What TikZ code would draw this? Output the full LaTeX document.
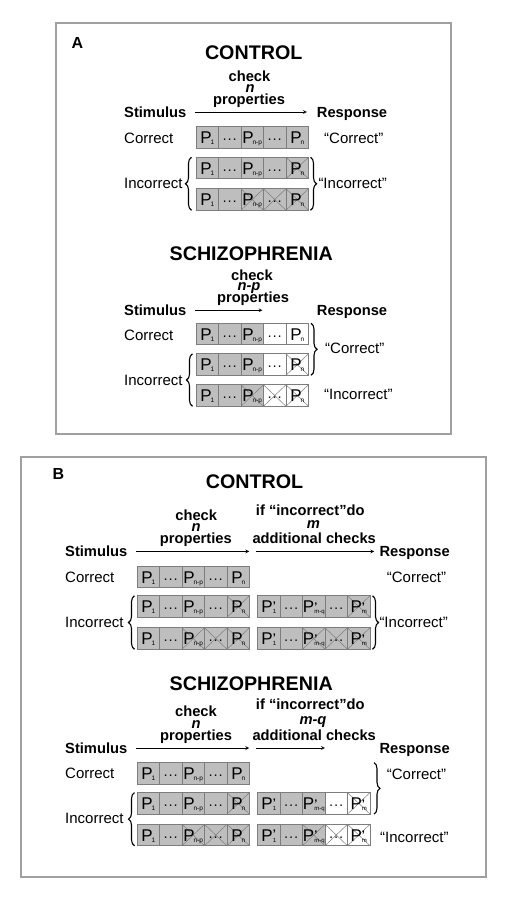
\documentclass[tikz,border=0pt]{standalone}
\usepackage{fontspec}
\setmainfont{Liberation Sans}
\usepackage{tikz}
\usetikzlibrary{arrows,positioning,decorations.pathreplacing}
\definecolor{boxgray}{RGB}{190,190,190}
\definecolor{linegray}{RGB}{125,125,125}
\definecolor{framegray}{RGB}{160,160,160}
\tikzstyle{cell} = [rectangle, minimum width=22.5pt, minimum height=21.5pt, inner sep=0pt, outer sep=0pt, draw=linegray, fill=boxgray, line width=0.6pt, text height=12pt, text depth=0pt, font=\fontsize{17}{17}\selectfont]
\tikzstyle{emptycell} = [cell, fill=white]
\tikzstyle{crossed} = [path picture={\draw[linegray, line width=0.5pt] (path picture bounding box.south west) -- (path picture bounding box.north east) (path picture bounding box.north west) -- (path picture bounding box.south east);}]
\tikzstyle{titletext} = [inner sep=0pt, anchor=base, font=\fontsize{19.7}{20}\selectfont\bfseries]
\tikzstyle{headtext} = [inner sep=0pt, anchor=base, font=\fontsize{14.7}{15}\selectfont\bfseries]
\tikzstyle{vartext} = [headtext, font=\fontsize{14.7}{15}\selectfont\bfseries\itshape]
\tikzstyle{sidetext} = [inner sep=0pt, anchor=base west, font=\fontsize{14.7}{15}\selectfont\bfseries]
\tikzstyle{lbltext} = [inner sep=0pt, anchor=base west, font=\fontsize{15}{15}\selectfont]
\tikzstyle{arrow} = [->, >=stealth, line width=0.7pt]
\tikzstyle{curly} = [decorate, decoration={brace, amplitude=6pt}, line width=1.1pt]
\tikzstyle{panel} = [draw=framegray, line width=1.2pt]
% cell contents
\newcommand{\Psub}[1]{P\kern-1.2pt\raisebox{-1pt}{\fontsize{6.5}{6.5}\selectfont #1}}
\newcommand{\Pprime}[1]{P\raisebox{-1pt}{\vbox{\offinterlineskip\hbox{\fontsize{11}{11}\selectfont\bfseries ’}\hbox{\fontsize{6}{6}\selectfont #1}}}}
\newcommand{\pdots}{{\fontsize{14}{14}\selectfont ·\kern0.3pt·\kern0.3pt·}}
% a row of n properties and a row of m extra checks
\newcommand{\nrow}[7]{%
\node[#3] (#1-1) at (#2) {\Psub{1}};
\node[#4, right=of #1-1] (#1-2) {\pdots};
\node[#5, right=of #1-2] (#1-3) {\Psub{n-p}};
\node[#6, right=of #1-3] (#1-4) {\pdots};
\node[#7, right=of #1-4] (#1-5) {\Psub{n}};}
\newcommand{\mrow}[7]{%
\node[#3] (#1-1) at (#2) {\Pprime{1}};
\node[#4, right=of #1-1] (#1-2) {\pdots};
\node[#5, right=of #1-2] (#1-3) {\Pprime{m-q}};
\node[#6, right=of #1-3] (#1-4) {\pdots};
\node[#7, right=of #1-4] (#1-5) {\Pprime{m}};}

\begin{document}
\begin{tikzpicture}[x=1pt, y=-1pt, node distance=0pt]
\useasboundingbox (0,0) rectangle (508,900);
% panel A
\draw[panel] (56,23) rectangle (451,434);
\node[titletext, font=\fontsize{16}{16}\selectfont\bfseries] (labA) at (77.5,48.3) {A};
\node[titletext] (ctrlA) at (253.7,59.3) {CONTROL};
\node[headtext] (chkA) at (249.5,81.5) {check};
\node[vartext] (nA) at (250,92.3) {n};
\node[headtext] (propA) at (249,104) {properties};
\node[sidetext] (stimA) at (124,117.3) {Stimulus};
\node[sidetext] (respA) at (316.7,117) {Response};
\draw[arrow] ([xshift=8.5pt]stimA.east) -- ++(111.9,0);
\node[lbltext] (corA) at (124,143) {Correct};
\node[lbltext] (qcorA) at (324,143) {“Correct”};
\node[lbltext] (incA) at (124,188.7) {Incorrect};
\node[lbltext] (qincA) at (318.3,188.7) {“Incorrect”};
\nrow{ac}{207.25,137.5}{cell}{cell}{cell}{cell}{cell}
\nrow{ai1}{207.25,168}{cell}{cell}{cell}{cell}{cell,crossed}
\nrow{ai2}{207.25,199.5}{cell}{cell}{cell,crossed}{cell,crossed}{cell,crossed}
\draw[curly] ([xshift=-4.5pt]ai2-1.south west) -- ([xshift=-4.5pt]ai1-1.north west);
\draw[curly] ([xshift=2pt]ai1-5.north east) -- ([xshift=2pt]ai2-5.south east);

\node[titletext] (schA) at (251.2,260.7) {SCHIZOPHRENIA};
\node[headtext] (chkAs) at (252,280) {check};
\node[vartext] (npAs) at (249,290.5) {n-p};
\node[headtext] (propAs) at (253,302) {properties};
\node[sidetext] (stimAs) at (124,315.5) {Stimulus};
\node[sidetext] (respAs) at (316.7,315.5) {Response};
\draw[arrow] ([xshift=8.5pt]stimAs.east) -- ++(67.5,0);
\node[lbltext] (corAs) at (124,340.5) {Correct};
\node[lbltext] (qcorAs) at (325,353.7) {“Correct”};
\node[lbltext] (incAs) at (124,385.4) {Incorrect};
\node[lbltext] (qincAs) at (324,399.4) {“Incorrect”};
\nrow{sc}{207.25,334}{cell}{cell}{cell}{emptycell}{emptycell}
\nrow{si1}{207.25,364.5}{cell}{cell}{cell}{emptycell}{emptycell,crossed}
\nrow{si2}{207.25,395.5}{cell}{cell}{cell,crossed}{emptycell,crossed}{emptycell,crossed}
\draw[curly] ([xshift=-3.5pt]si2-1.south west) -- ([xshift=-3.5pt]si1-1.north west);
\draw[curly] ([xshift=2.5pt]sc-5.north east) -- ([xshift=2.5pt]si1-5.south east);

% panel B
\draw[panel] (21,457) rectangle (486,877);
\node[titletext, font=\fontsize{16}{16}\selectfont\bfseries] (labB) at (58.3,479) {B};
\node[titletext] (ctrlB) at (254.5,488.3) {CONTROL};
\node[headtext] (chkB) at (196.2,520) {check};
\node[vartext] (nB) at (196,531.2) {n};
\node[headtext] (propB) at (195.8,543) {properties};
\node[headtext] (ifB) at (310.3,515) {if “incorrect”do};
\node[vartext] (mB) at (313.3,528.3) {m};
\node[headtext] (addB) at (314.2,543.5) {additional checks};
\node[sidetext] (stimB) at (65,556.7) {Stimulus};
\node[sidetext] (respB) at (379.3,556.5) {Response};
\draw[arrow] ([xshift=9pt]stimB.east) -- ++(112.7,0);
\draw[arrow] ([xshift=128.4pt]stimB.east) -- ++(118.3,0);
\node[lbltext] (corB) at (65,582) {Correct};
\node[lbltext] (qcorB) at (386.7,582) {“Correct”};
\node[lbltext] (incB) at (65,627) {Incorrect};
\node[lbltext] (qincB) at (379.3,627) {“Incorrect”};
\nrow{bc}{148.25,577}{cell}{cell}{cell}{cell}{cell}
\nrow{bi1}{148.25,606.5}{cell}{cell}{cell}{cell}{cell,crossed}
\mrow{bm1}{268.75,606.5}{cell}{cell}{cell}{cell}{cell,crossed}
\nrow{bi2}{148.25,638.5}{cell}{cell}{cell,crossed}{cell,crossed}{cell,crossed}
\mrow{bm2}{268.75,638.5}{cell}{cell}{cell,crossed}{cell,crossed}{cell,crossed}
\draw[curly] ([xshift=-2.5pt]bi2-1.south west) -- ([xshift=-2.5pt]bi1-1.north west);
\draw[curly] ([xshift=2.5pt]bm1-5.north east) -- ([xshift=2.5pt]bm2-5.south east);

\node[titletext] (schB) at (251.2,690.7) {SCHIZOPHRENIA};
\node[headtext] (chkBs) at (196,716.7) {check};
\node[vartext] (nBs) at (196,728.3) {n};
\node[headtext] (propBs) at (196,740) {properties};
\node[headtext] (ifBs) at (310.3,709.3) {if “incorrect”do};
\node[vartext] (mqBs) at (313,724.3) {m-q};
\node[headtext] (addBs) at (314.2,740.7) {additional checks};
\node[sidetext] (stimBs) at (65,753.3) {Stimulus};
\node[sidetext] (respBs) at (379.3,753) {Response};
\draw[arrow] ([xshift=9pt]stimBs.east) -- ++(112.7,0);
\draw[arrow] ([xshift=128.4pt]stimBs.east) -- ++(69,0);
\node[lbltext] (corBs) at (65,778.7) {Correct};
\node[lbltext] (qcorBs) at (386.7,779.4) {“Correct”};
\node[lbltext] (incBs) at (65,823.7) {Incorrect};
\node[lbltext] (qincBs) at (380,842) {“Incorrect”};
\nrow{tc}{148.25,773.3}{cell}{cell}{cell}{cell}{cell}
\nrow{ti1}{148.25,803.3}{cell}{cell}{cell}{cell}{cell,crossed}
\mrow{tm1}{268.75,803.3}{cell}{cell}{cell}{emptycell}{emptycell,crossed}
\nrow{ti2}{148.25,835}{cell}{cell}{cell,crossed}{cell,crossed}{cell,crossed}
\mrow{tm2}{268.75,835}{cell}{cell}{cell,crossed}{emptycell,crossed}{emptycell,crossed}
\draw[curly] ([xshift=-2.5pt]ti2-1.south west) -- ([xshift=-2.5pt]ti1-1.north west);
\draw[curly] ([xshift=4pt]tm1-5.east |- tc-5.north) -- ([xshift=4pt]tm1-5.south east);
\end{tikzpicture}
\end{document}
